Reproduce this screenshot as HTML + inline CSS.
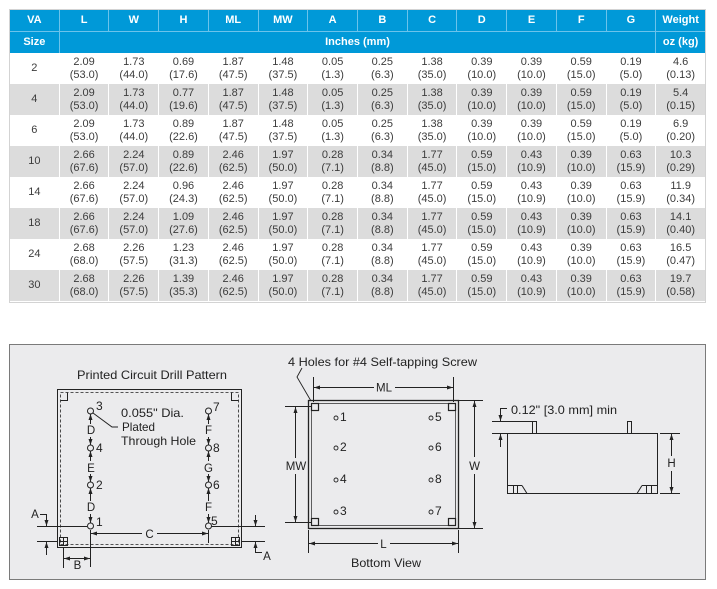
<!DOCTYPE html>
<html><head><meta charset="utf-8"><style>
html,body{margin:0;padding:0;background:#fff;width:717px;height:589px;overflow:hidden;position:relative;font-family:"Liberation Sans",Arial,sans-serif}
.frame{position:absolute;left:9px;top:9px;width:695px;height:292px;border:1px solid #d3d3d3}
.hdr{position:absolute;left:10px;top:10px;width:695px;display:grid;grid-template-columns:repeat(14,1fr);grid-template-rows:21px 21px;gap:1px;background:#6cc3eb}
.hdr div{background:#0099d8;color:#fff;font-weight:bold;font-size:11px;display:flex;align-items:center;justify-content:center;padding-bottom:2px;box-sizing:border-box}
.dat{position:absolute;left:10px;top:53px;width:695px;display:grid;grid-template-columns:repeat(14,1fr);grid-template-rows:repeat(8,31px);column-gap:1px;row-gap:0;background:#fff}
.dat div{font-size:11px;line-height:13px;color:#3c3c3c;display:flex;flex-direction:column;align-items:center;justify-content:center;text-align:center}
.dat div.g{background:#dcdcdc}
</style></head><body>
<div class="frame"></div>
<div class="hdr">
<div>VA</div><div>L</div><div>W</div><div>H</div><div>ML</div><div>MW</div><div>A</div><div>B</div><div>C</div><div>D</div><div>E</div><div>F</div><div>G</div><div>Weight</div>
<div>Size</div><div style="grid-column:2 / 14">Inches (mm)</div><div>oz (kg)</div>
</div>
<div class="dat">
<div>2</div><div>2.09<br>(53.0)</div><div>1.73<br>(44.0)</div><div>0.69<br>(17.6)</div><div>1.87<br>(47.5)</div><div>1.48<br>(37.5)</div><div>0.05<br>(1.3)</div><div>0.25<br>(6.3)</div><div>1.38<br>(35.0)</div><div>0.39<br>(10.0)</div><div>0.39<br>(10.0)</div><div>0.59<br>(15.0)</div><div>0.19<br>(5.0)</div><div>4.6<br>(0.13)</div>
<div class="g">4</div><div class="g">2.09<br>(53.0)</div><div class="g">1.73<br>(44.0)</div><div class="g">0.77<br>(19.6)</div><div class="g">1.87<br>(47.5)</div><div class="g">1.48<br>(37.5)</div><div class="g">0.05<br>(1.3)</div><div class="g">0.25<br>(6.3)</div><div class="g">1.38<br>(35.0)</div><div class="g">0.39<br>(10.0)</div><div class="g">0.39<br>(10.0)</div><div class="g">0.59<br>(15.0)</div><div class="g">0.19<br>(5.0)</div><div class="g">5.4<br>(0.15)</div>
<div>6</div><div>2.09<br>(53.0)</div><div>1.73<br>(44.0)</div><div>0.89<br>(22.6)</div><div>1.87<br>(47.5)</div><div>1.48<br>(37.5)</div><div>0.05<br>(1.3)</div><div>0.25<br>(6.3)</div><div>1.38<br>(35.0)</div><div>0.39<br>(10.0)</div><div>0.39<br>(10.0)</div><div>0.59<br>(15.0)</div><div>0.19<br>(5.0)</div><div>6.9<br>(0.20)</div>
<div class="g">10</div><div class="g">2.66<br>(67.6)</div><div class="g">2.24<br>(57.0)</div><div class="g">0.89<br>(22.6)</div><div class="g">2.46<br>(62.5)</div><div class="g">1.97<br>(50.0)</div><div class="g">0.28<br>(7.1)</div><div class="g">0.34<br>(8.8)</div><div class="g">1.77<br>(45.0)</div><div class="g">0.59<br>(15.0)</div><div class="g">0.43<br>(10.9)</div><div class="g">0.39<br>(10.0)</div><div class="g">0.63<br>(15.9)</div><div class="g">10.3<br>(0.29)</div>
<div>14</div><div>2.66<br>(67.6)</div><div>2.24<br>(57.0)</div><div>0.96<br>(24.3)</div><div>2.46<br>(62.5)</div><div>1.97<br>(50.0)</div><div>0.28<br>(7.1)</div><div>0.34<br>(8.8)</div><div>1.77<br>(45.0)</div><div>0.59<br>(15.0)</div><div>0.43<br>(10.9)</div><div>0.39<br>(10.0)</div><div>0.63<br>(15.9)</div><div>11.9<br>(0.34)</div>
<div class="g">18</div><div class="g">2.66<br>(67.6)</div><div class="g">2.24<br>(57.0)</div><div class="g">1.09<br>(27.6)</div><div class="g">2.46<br>(62.5)</div><div class="g">1.97<br>(50.0)</div><div class="g">0.28<br>(7.1)</div><div class="g">0.34<br>(8.8)</div><div class="g">1.77<br>(45.0)</div><div class="g">0.59<br>(15.0)</div><div class="g">0.43<br>(10.9)</div><div class="g">0.39<br>(10.0)</div><div class="g">0.63<br>(15.9)</div><div class="g">14.1<br>(0.40)</div>
<div>24</div><div>2.68<br>(68.0)</div><div>2.26<br>(57.5)</div><div>1.23<br>(31.3)</div><div>2.46<br>(62.5)</div><div>1.97<br>(50.0)</div><div>0.28<br>(7.1)</div><div>0.34<br>(8.8)</div><div>1.77<br>(45.0)</div><div>0.59<br>(15.0)</div><div>0.43<br>(10.9)</div><div>0.39<br>(10.0)</div><div>0.63<br>(15.9)</div><div>16.5<br>(0.47)</div>
<div class="g">30</div><div class="g">2.68<br>(68.0)</div><div class="g">2.26<br>(57.5)</div><div class="g">1.39<br>(35.3)</div><div class="g">2.46<br>(62.5)</div><div class="g">1.97<br>(50.0)</div><div class="g">0.28<br>(7.1)</div><div class="g">0.34<br>(8.8)</div><div class="g">1.77<br>(45.0)</div><div class="g">0.59<br>(15.0)</div><div class="g">0.43<br>(10.9)</div><div class="g">0.39<br>(10.0)</div><div class="g">0.63<br>(15.9)</div><div class="g">19.7<br>(0.58)</div>
</div>

<svg width="717" height="589" style="position:absolute;left:0;top:0" font-family="Liberation Sans, Arial, sans-serif" font-size="12" fill="#222">
<defs>
<marker id="ar" viewBox="0 0 6 4" refX="6" refY="2" markerWidth="6" markerHeight="4" orient="auto" markerUnits="userSpaceOnUse"><path d="M0,0L6,2L0,4z" fill="#222"/></marker>
</defs>
<rect x="9.5" y="344.5" width="696" height="235" fill="#ebebed" stroke="#7a7a7a"/>

<g stroke="#222" stroke-width="1" fill="none">
<!-- LEFT DRILL PATTERN -->
<rect x="57.5" y="389.5" width="184" height="158"/>
<rect x="60.5" y="392.5" width="178" height="152" stroke-dasharray="3,2" stroke-width="0.8"/>
<path d="M60.5,400.5H67.5V392.5"/>
<path d="M238.5,400.5H231.5V392.5"/>
<rect x="59.5" y="537.5" width="8" height="8"/><path d="M63.5,537.5V545.5M59.5,541.5H67.5"/>
<rect x="231.5" y="537.5" width="8" height="8"/><path d="M235.5,537.5V545.5M231.5,541.5H239.5"/>
<circle cx="90.5" cy="411" r="3"/><circle cx="90.5" cy="448" r="3"/><circle cx="90.5" cy="485" r="3"/><circle cx="90.5" cy="526" r="3"/>
<circle cx="208.5" cy="411" r="3"/><circle cx="208.5" cy="448" r="3"/><circle cx="208.5" cy="485" r="3"/><circle cx="208.5" cy="526" r="3"/>
<g marker-end="url(#ar)">
<line x1="90.5" y1="424" x2="90.5" y2="414"/><line x1="90.5" y1="437" x2="90.5" y2="445"/>
<line x1="90.5" y1="461" x2="90.5" y2="451"/><line x1="90.5" y1="474" x2="90.5" y2="482"/>
<line x1="90.5" y1="501" x2="90.5" y2="488"/><line x1="90.5" y1="514" x2="90.5" y2="523"/>
<line x1="208.5" y1="424" x2="208.5" y2="414"/><line x1="208.5" y1="437" x2="208.5" y2="445"/>
<line x1="208.5" y1="461" x2="208.5" y2="451"/><line x1="208.5" y1="474" x2="208.5" y2="482"/>
<line x1="208.5" y1="501" x2="208.5" y2="488"/><line x1="208.5" y1="514" x2="208.5" y2="523"/>
<path d="M40,514.5H46.5V526"/><line x1="46.5" y1="555" x2="46.5" y2="542"/>
<line x1="255.5" y1="515" x2="255.5" y2="526"/><path d="M262,552.5H255.5V542"/>
<line x1="142" y1="533.5" x2="91" y2="533.5"/><line x1="157" y1="533.5" x2="208" y2="533.5"/>
<line x1="77" y1="558.5" x2="64" y2="558.5"/><line x1="77" y1="558.5" x2="90" y2="558.5"/>
</g>
<path d="M93,413L112,427H118"/>
<path d="M37,526.5H87M37,541.5H57M211,526.5H265M242,541.5H265"/>
<path d="M90.5,530V567M208.5,530V543M63.5,548V568"/>

<!-- MIDDLE BOTTOM VIEW -->
<rect x="308.5" y="400.5" width="150" height="128" stroke-width="1.3"/>
<rect x="311.5" y="403.5" width="144" height="122" stroke-width="0.7"/>
<rect x="311.5" y="403.5" width="7" height="7" stroke-width="1.2"/>
<rect x="448.5" y="403.5" width="7" height="7" stroke-width="1.2"/>
<rect x="311.5" y="518.5" width="7" height="7" stroke-width="1.2"/>
<rect x="448.5" y="518.5" width="7" height="7" stroke-width="1.2"/>
<g stroke-width="0.9">
<circle cx="336" cy="418" r="2"/><circle cx="336" cy="448" r="2"/><circle cx="336" cy="480" r="2"/><circle cx="336" cy="512" r="2"/>
<circle cx="431" cy="418" r="2"/><circle cx="431" cy="448" r="2"/><circle cx="431" cy="480" r="2"/><circle cx="431" cy="512" r="2"/>
</g>
<path d="M302,368L297,377L311,401" stroke-width="0.9"/>
<g marker-end="url(#ar)">
<line x1="374" y1="387.5" x2="314" y2="387.5"/><line x1="395" y1="387.5" x2="453" y2="387.5"/>
<line x1="295.5" y1="458" x2="295.5" y2="407"/><line x1="295.5" y1="474" x2="295.5" y2="522"/>
<line x1="474.5" y1="457" x2="474.5" y2="401"/><line x1="474.5" y1="474" x2="474.5" y2="528"/>
<line x1="378" y1="543.5" x2="309" y2="543.5"/><line x1="390" y1="543.5" x2="458" y2="543.5"/>
</g>
<path d="M313.5,377V402M453.5,377V402M285,406.5H311M285,522.5H311M459,400.5H483M459,528.5H483M308.5,530V553M458.5,530V553"/>

<!-- RIGHT SIDE VIEW -->
<rect x="507.5" y="433.5" width="150" height="60"/>
<rect x="532.5" y="421.5" width="4" height="12"/>
<rect x="627.5" y="421.5" width="4" height="12"/>
<path d="M507.5,485.5H522M513.5,485.5V493M517.5,485.5V493M522,485.5L527,493.5"/>
<path d="M657.5,485.5H642M651.5,485.5V493M646.5,485.5V493M642,485.5L637,493.5"/>
<path d="M660,433.5H680M660,493.5H680M492,421.5H532M492,433.5H507"/>
<g marker-end="url(#ar)">
<line x1="671.5" y1="456" x2="671.5" y2="434"/><line x1="671.5" y1="471" x2="671.5" y2="493"/>
<path d="M507,408.5H500.5V421"/><line x1="500.5" y1="447" x2="500.5" y2="434"/>
</g>
</g>

<!-- TEXTS -->
<text x="77" y="379" textLength="150" lengthAdjust="spacingAndGlyphs">Printed Circuit Drill Pattern</text>
<text x="121" y="417" textLength="63" lengthAdjust="spacingAndGlyphs">0.055" Dia.</text>
<text x="122" y="431" textLength="33" lengthAdjust="spacingAndGlyphs">Plated</text>
<text x="121" y="445" textLength="75" lengthAdjust="spacingAndGlyphs">Through Hole</text>
<g font-size="12">
<text x="96" y="410">3</text><text x="96" y="452">4</text><text x="96" y="489">2</text><text x="96" y="526">1</text>
<text x="213" y="411">7</text><text x="213" y="452">8</text><text x="213" y="489">6</text><text x="211" y="525">5</text>
</g>
<g font-size="11.5" text-anchor="middle">
<text x="91" y="434">D</text><text x="91" y="472">E</text><text x="91" y="511">D</text>
<text x="208.5" y="434">F</text><text x="208.5" y="472">G</text><text x="208.5" y="511">F</text>
<text x="35" y="518">A</text><text x="267" y="560">A</text>
<text x="149.5" y="538">C</text><text x="77.5" y="569">B</text>
<text x="384" y="391.5">ML</text><text x="296" y="470">MW</text><text x="474.5" y="470">W</text><text x="383.5" y="548">L</text>
<text x="671.5" y="467">H</text>
</g>
<text x="288" y="366" textLength="189" lengthAdjust="spacingAndGlyphs">4 Holes for #4 Self-tapping Screw</text>
<g font-size="12">
<text x="340" y="421">1</text><text x="340" y="451">2</text><text x="340" y="483">4</text><text x="340" y="515">3</text>
<text x="435" y="421">5</text><text x="435" y="451">6</text><text x="435" y="483">8</text><text x="435" y="515">7</text>
</g>
<text x="351" y="567" textLength="70" lengthAdjust="spacingAndGlyphs">Bottom View</text>
<text x="511" y="414" textLength="106" lengthAdjust="spacingAndGlyphs">0.12" [3.0 mm] min</text>
</svg>
</body></html>
